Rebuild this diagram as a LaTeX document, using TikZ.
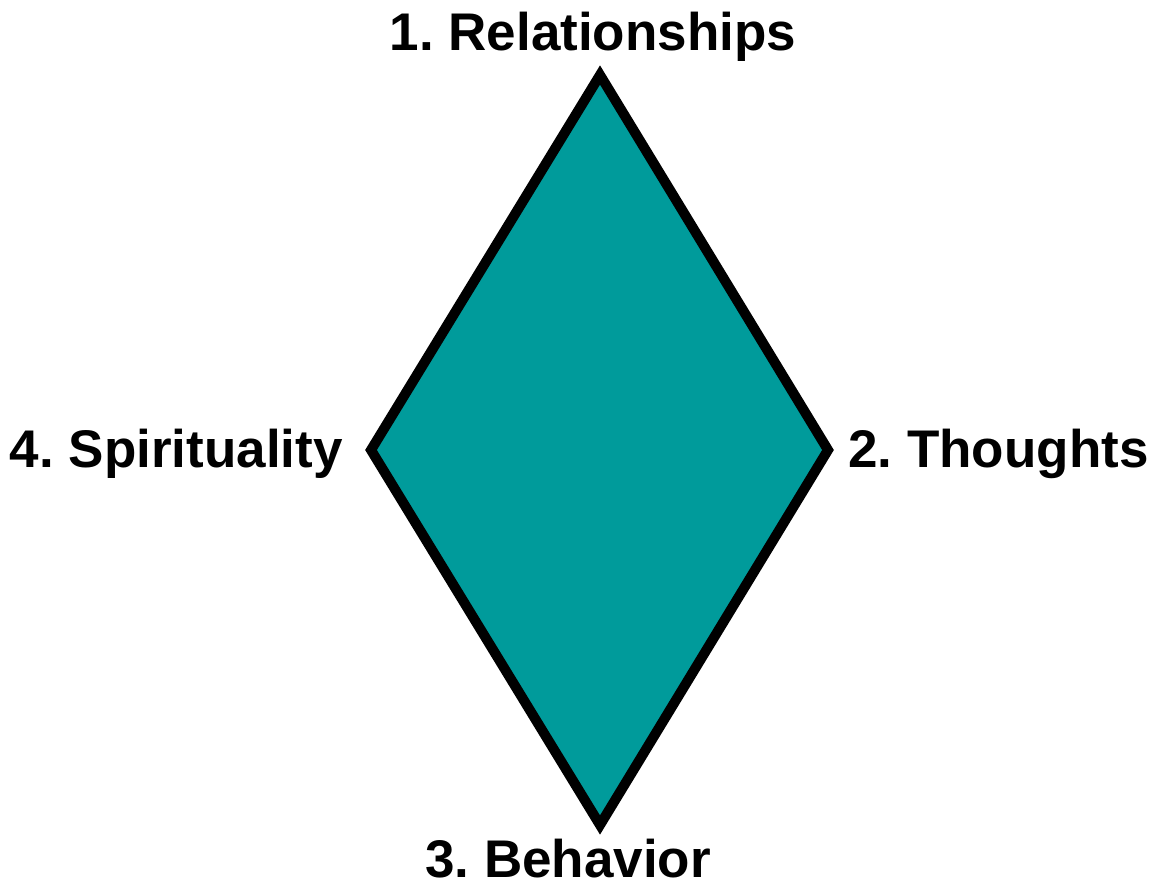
\documentclass[tikz,border=0pt]{standalone}
\usepackage{fontspec}
\setmainfont{Liberation Sans}
\frenchspacing
\begin{document}
\begin{tikzpicture}[x=1pt,y=-1pt,
  lbl/.style={font=\fontsize{53}{60}\selectfont\bfseries\frenchspacing, inner sep=0pt}]
\useasboundingbox (0,0) rectangle (1163,886);
\definecolor{teal1}{RGB}{0,155,155}
\coordinate (t) at (600,75);
\coordinate (r) at (828,450);
\coordinate (b) at (600,825);
\coordinate (l) at (371,450);
\filldraw[fill=teal1, draw=black, line width=10pt, line join=miter] (t) -- (r) -- (b) -- (l) -- cycle;
\node[lbl, anchor=base] (n1) at (593,50) {1. Relationships};
\node[lbl, anchor=base west] (n2) at (848,467) {2. Thoughts};
\node[lbl, anchor=base] (n3) at (568,877) {3. Behavior};
\node[lbl, anchor=base east] (n4) at (343,467) {4. Spirituality};
\end{tikzpicture}
\end{document}
